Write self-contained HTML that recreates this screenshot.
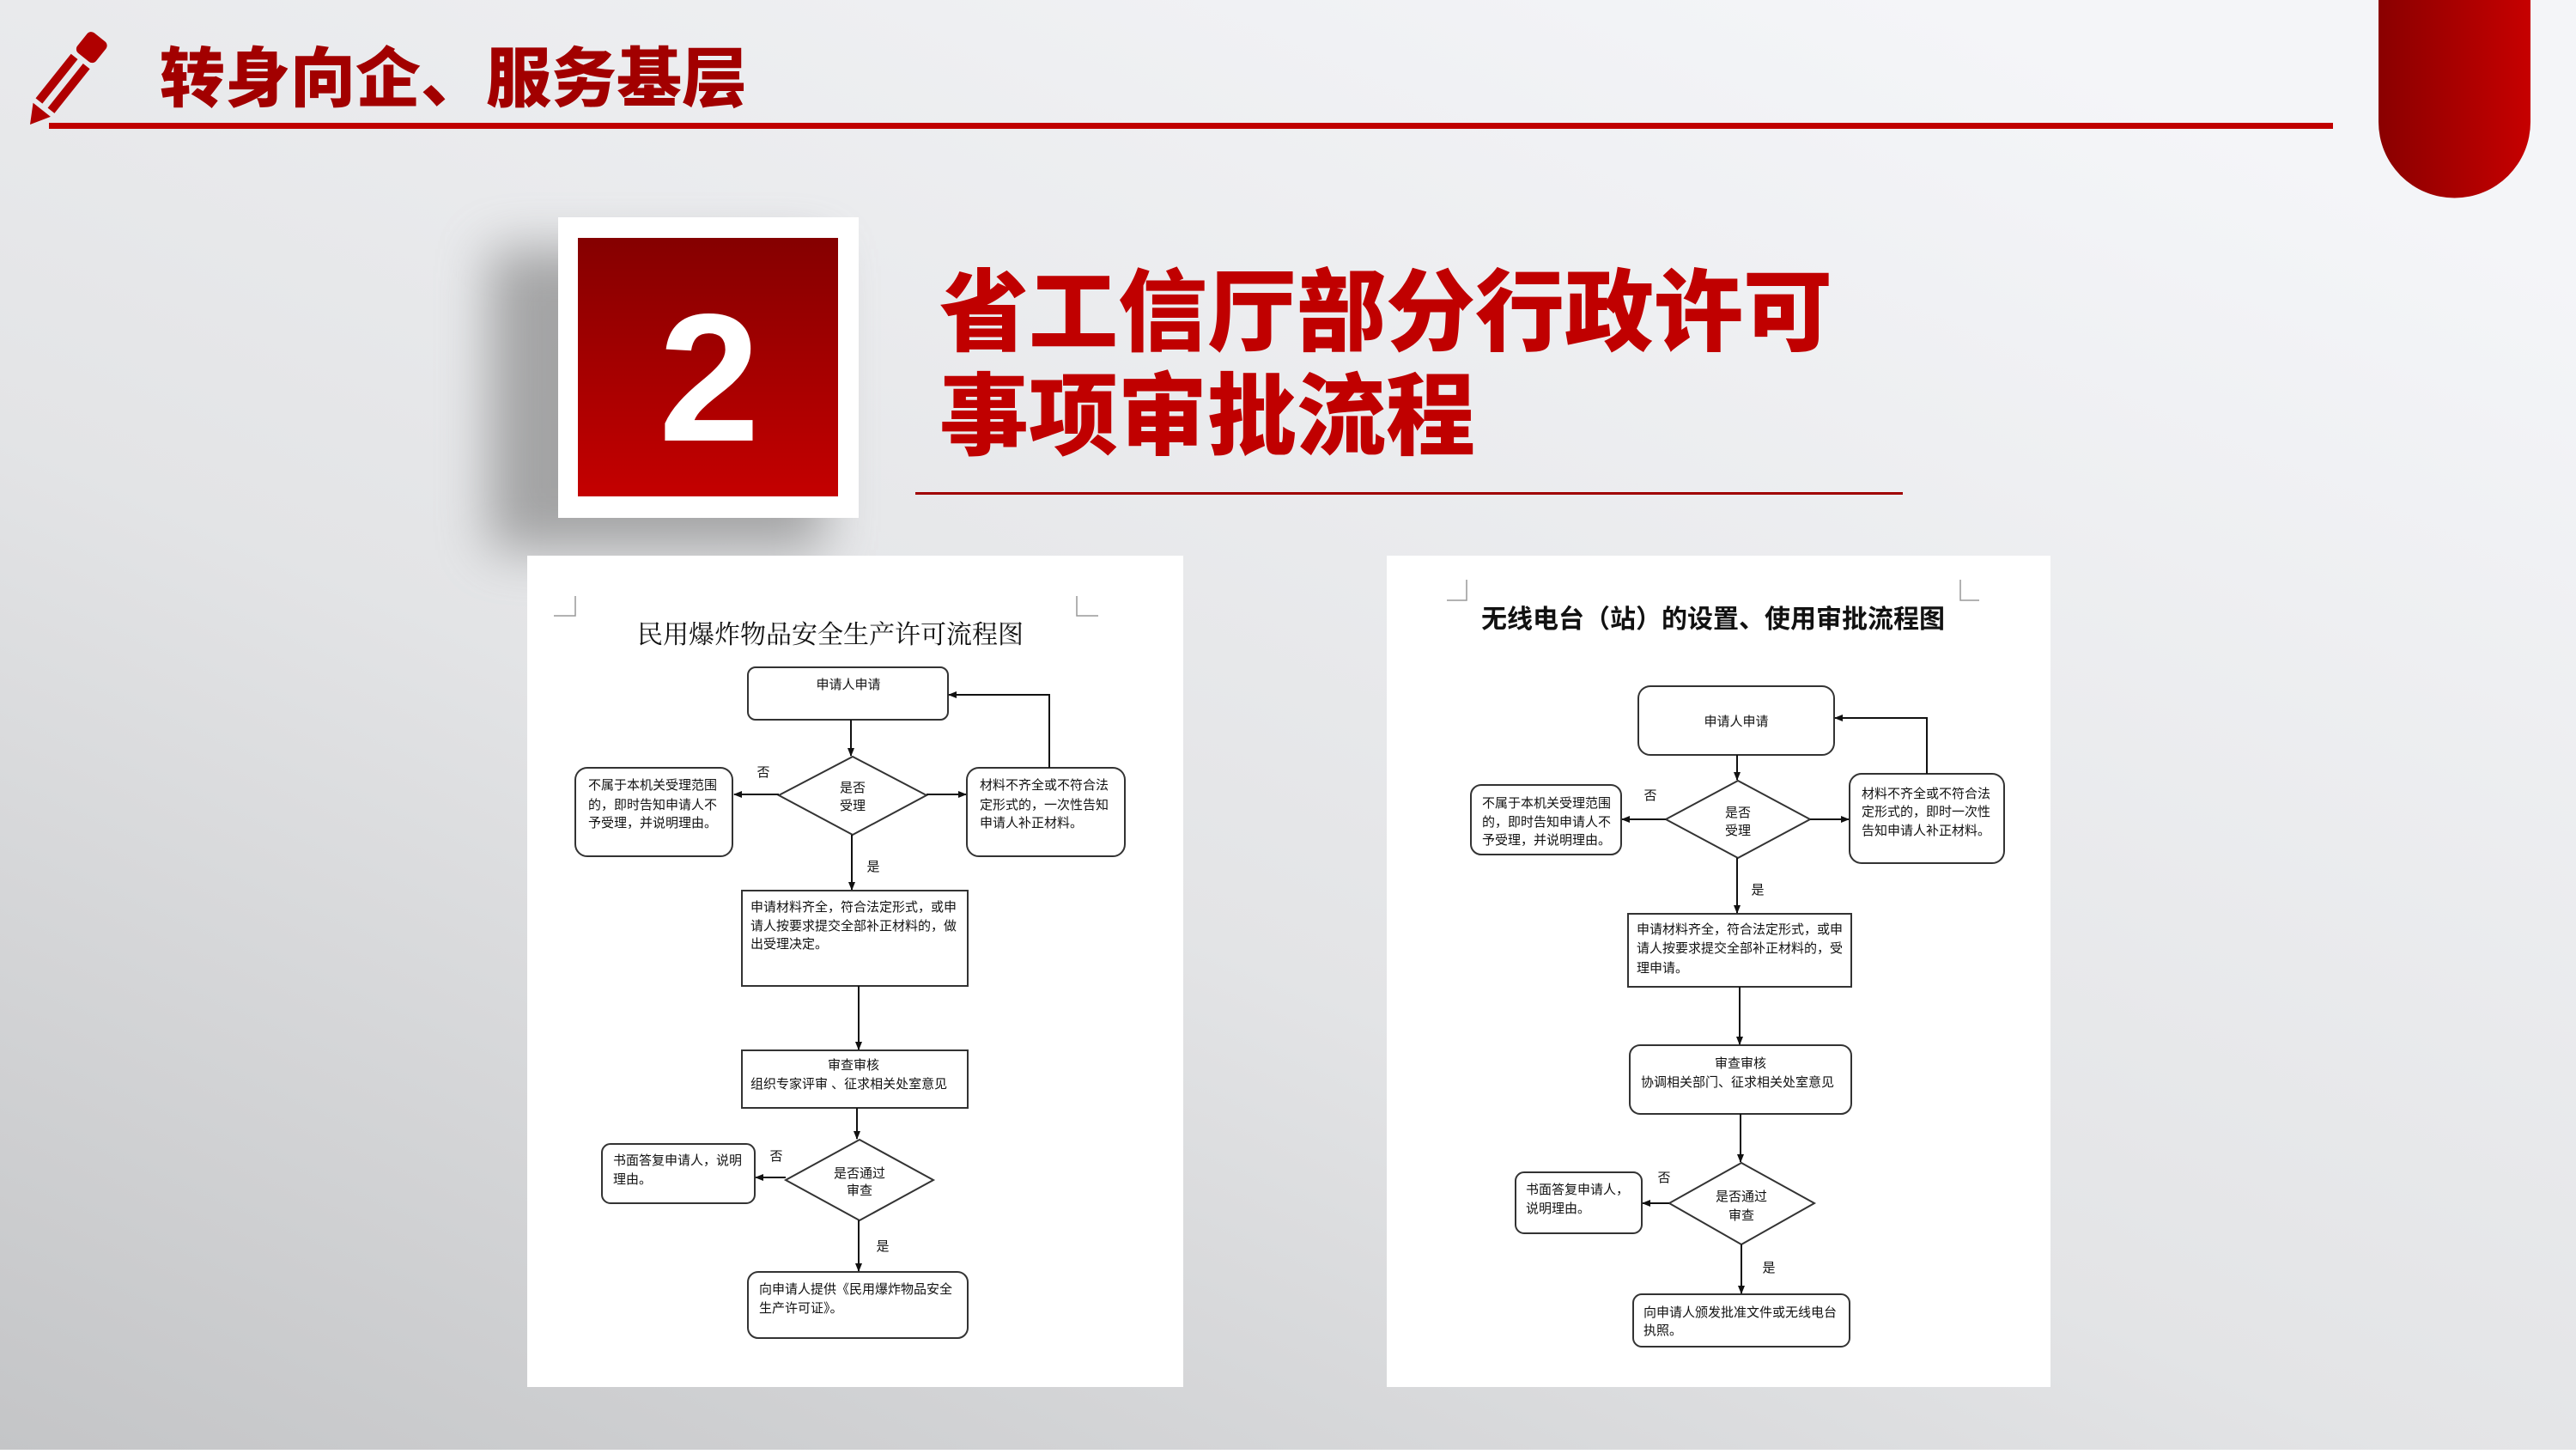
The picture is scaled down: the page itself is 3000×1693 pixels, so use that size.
<!DOCTYPE html>
<html><head><meta charset="utf-8"><style>
html,body{margin:0;padding:0;}
body{width:3000px;height:1688px;overflow:hidden;}
svg text{font-family:"Liberation Sans","Noto Sans CJK SC",sans-serif;}
.f{font-size:15px;fill:#111;}
.b{fill:#fff;stroke:#333;stroke-width:2;}
.l{stroke:#111;stroke-width:2;fill:none;}
</style></head><body>
<svg width="3000" height="1688" viewBox="0 0 3000 1688" xmlns="http://www.w3.org/2000/svg">
<defs>
<linearGradient id="bg" x1="0" y1="1" x2="0.75" y2="0">
<stop offset="0" stop-color="#c4c5c7"/><stop offset="0.45" stop-color="#e3e4e6"/><stop offset="1" stop-color="#f4f5f8"/>
</linearGradient>
<linearGradient id="red" x1="0" y1="0" x2="0" y2="1">
<stop offset="0" stop-color="#850000"/><stop offset="1" stop-color="#c40000"/>
</linearGradient>
<linearGradient id="redh" x1="0" y1="0" x2="1" y2="0">
<stop offset="0" stop-color="#8a0000"/><stop offset="1" stop-color="#c60000"/>
</linearGradient>
<filter id="sh" x="-50%" y="-50%" width="200%" height="200%"><feGaussianBlur stdDeviation="30"/></filter>
<marker id="a" markerWidth="10" markerHeight="10" refX="9" refY="5" orient="auto" markerUnits="userSpaceOnUse"><path d="M0,1 L10,5 L0,9 z" fill="#111"/></marker>
</defs>
<rect width="3000" height="1688" fill="url(#bg)"/>

<g transform="translate(35,145) rotate(-51.4)">
<polygon points="0,0 22,-13 22,13" fill="#b00000"/>
<rect x="28" y="-14" width="66" height="10" fill="#b00000"/>
<rect x="28" y="4" width="66" height="10" fill="#b00000"/>
<rect x="100" y="-14" width="30" height="28" rx="6" fill="#b00000"/>
</g>
<rect x="57" y="143" width="2660" height="7" fill="#c00000"/>
<text x="186" y="118" style="font-size:76px;font-weight:900;fill:#a20000;font-family:'Liberation Sans','Noto Sans CJK SC',sans-serif">转身向企、服务基层</text>
<path d="M2770,0 H2947 V142 A88.5,88.5 0 0 1 2770,142 Z" fill="url(#redh)"/>

<rect x="570" y="290" width="390" height="350" fill="#777" opacity="0.6" filter="url(#sh)"/>
<rect x="650" y="253" width="350" height="350" fill="#fff"/>
<rect x="673" y="277" width="303" height="301" fill="url(#red)"/>
<text x="826" y="513" text-anchor="middle" style="font-size:212px;font-weight:bold;fill:#fff;font-family:'Liberation Sans',sans-serif">2</text>

<text x="1094" y="400" style="font-size:104px;font-weight:900;fill:#c00000;font-family:'Liberation Sans','Noto Sans CJK SC',sans-serif">省工信厅部分行政许可</text>
<text x="1094" y="521" style="font-size:104px;font-weight:900;fill:#c00000;font-family:'Liberation Sans','Noto Sans CJK SC',sans-serif">事项审批流程</text>
<rect x="1066" y="573" width="1150" height="3" fill="#a00000"/>

<rect x="614" y="647" width="764" height="968" fill="#fff"/>
<path d="M645,717 H670 V694 M1254,694 V717 H1279" stroke="#999" stroke-width="1.5" fill="none"/>
<text x="967" y="749" text-anchor="middle" style="font-size:30px;fill:#111;font-family:'Liberation Serif','Noto Serif CJK SC',serif">民用爆炸物品安全生产许可流程图</text>
<rect class="b" x="871" y="777" width="233" height="61" rx="9"/>
<text class="f" x="988" y="802" text-anchor="middle">申请人申请</text>
<line class="l" x1="991" y1="838" x2="991" y2="880" marker-end="url(#a)"/>
<polygon class="b" points="993,881 1079,926 993,972 907,926"/>
<text class="f" x="993" y="922" text-anchor="middle">是否</text>
<text class="f" x="993" y="943" text-anchor="middle">受理</text>
<line class="l" x1="907" y1="925" x2="855" y2="925" marker-end="url(#a)"/>
<text class="f" x="889" y="904" text-anchor="middle">否</text>
<rect class="b" x="670" y="894" width="183" height="103" rx="14"/>
<text class="f" x="685" y="919">不属于本机关受理范围</text>
<text class="f" x="685" y="942">的，即时告知申请人不</text>
<text class="f" x="685" y="963">予受理，并说明理由。</text>
<line class="l" x1="1079" y1="925" x2="1125" y2="925" marker-end="url(#a)"/>
<rect class="b" x="1126" y="894" width="184" height="103" rx="14"/>
<text class="f" x="1141" y="919">材料不齐全或不符合法</text>
<text class="f" x="1141" y="942">定形式的，一次性告知</text>
<text class="f" x="1141" y="963">申请人补正材料。</text>
<polyline class="l" points="1222,894 1222,809 1105,809" marker-end="url(#a)"/>
<text class="f" x="1017" y="1014" text-anchor="middle">是</text>
<line class="l" x1="992" y1="972" x2="992" y2="1036" marker-end="url(#a)"/>
<rect class="b" x="864" y="1037" width="263" height="111"/>
<text class="f" x="874" y="1061">申请材料齐全，符合法定形式，或申</text>
<text class="f" x="874" y="1083">请人按要求提交全部补正材料的，做</text>
<text class="f" x="874" y="1104">出受理决定。</text>
<line class="l" x1="1000" y1="1148" x2="1000" y2="1222" marker-end="url(#a)"/>
<rect class="b" x="864" y="1223" width="263" height="67"/>
<text class="f" x="994" y="1245" text-anchor="middle">审查审核</text>
<text class="f" x="874" y="1267">组织专家评审 、征求相关处室意见</text>
<line class="l" x1="998" y1="1290" x2="998" y2="1326" marker-end="url(#a)"/>
<polygon class="b" points="1001,1327 1087,1374 1001,1421 915,1374"/>
<text class="f" x="1001" y="1371" text-anchor="middle">是否通过</text>
<text class="f" x="1001" y="1391" text-anchor="middle">审查</text>
<line class="l" x1="915" y1="1371" x2="880" y2="1371" marker-end="url(#a)"/>
<text class="f" x="904" y="1351" text-anchor="middle">否</text>
<rect class="b" x="701" y="1332" width="178" height="69" rx="10"/>
<text class="f" x="714" y="1356">书面答复申请人，说明</text>
<text class="f" x="714" y="1378">理由。</text>
<text class="f" x="1028" y="1456" text-anchor="middle">是</text>
<line class="l" x1="1000" y1="1421" x2="1000" y2="1480" marker-end="url(#a)"/>
<rect class="b" x="871" y="1481" width="256" height="77" rx="12"/>
<text class="f" x="884" y="1506">向申请人提供《民用爆炸物品安全</text>
<text class="f" x="884" y="1528">生产许可证》。</text>

<rect x="1615" y="647" width="773" height="968" fill="#fff"/>
<path d="M1685,699 H1708 V675 M2283,675 V699 H2305" stroke="#999" stroke-width="1.5" fill="none"/>
<text x="1995" y="731" text-anchor="middle" style="font-size:30px;font-weight:bold;fill:#111;font-family:'Liberation Sans','Noto Sans CJK SC',sans-serif">无线电台（站）的设置、使用审批流程图</text>
<rect class="b" x="1908" y="799" width="228" height="80" rx="14"/>
<text class="f" x="2022" y="845" text-anchor="middle">申请人申请</text>
<line class="l" x1="2023" y1="879" x2="2023" y2="908" marker-end="url(#a)"/>
<polygon class="b" points="2024,909 2108,954 2024,999 1940,954"/>
<text class="f" x="2024" y="951" text-anchor="middle">是否</text>
<text class="f" x="2024" y="972" text-anchor="middle">受理</text>
<line class="l" x1="1940" y1="954" x2="1889" y2="954" marker-end="url(#a)"/>
<text class="f" x="1922" y="931" text-anchor="middle">否</text>
<rect class="b" x="1713" y="914" width="175" height="81" rx="12"/>
<text class="f" x="1726" y="940">不属于本机关受理范围</text>
<text class="f" x="1726" y="962">的，即时告知申请人不</text>
<text class="f" x="1726" y="983">予受理，并说明理由。</text>
<line class="l" x1="2108" y1="954" x2="2153" y2="954" marker-end="url(#a)"/>
<rect class="b" x="2154" y="901" width="180" height="104" rx="14"/>
<text class="f" x="2168" y="929">材料不齐全或不符合法</text>
<text class="f" x="2168" y="950">定形式的，即时一次性</text>
<text class="f" x="2168" y="972">告知申请人补正材料。</text>
<polyline class="l" points="2244,901 2244,836 2137,836" marker-end="url(#a)"/>
<text class="f" x="2047" y="1041" text-anchor="middle">是</text>
<line class="l" x1="2023" y1="999" x2="2023" y2="1063" marker-end="url(#a)"/>
<rect class="b" x="1896" y="1064" width="260" height="85"/>
<text class="f" x="1906" y="1087">申请材料齐全，符合法定形式，或申</text>
<text class="f" x="1906" y="1109">请人按要求提交全部补正材料的，受</text>
<text class="f" x="1906" y="1132">理申请。</text>
<line class="l" x1="2026" y1="1149" x2="2026" y2="1216" marker-end="url(#a)"/>
<rect class="b" x="1898" y="1217" width="258" height="80" rx="12"/>
<text class="f" x="2027" y="1243" text-anchor="middle">审查审核</text>
<text class="f" x="1911" y="1265">协调相关部门、征求相关处室意见</text>
<line class="l" x1="2027" y1="1297" x2="2027" y2="1353" marker-end="url(#a)"/>
<polygon class="b" points="2028,1354 2113,1401 2028,1449 1944,1401"/>
<text class="f" x="2028" y="1398" text-anchor="middle">是否通过</text>
<text class="f" x="2028" y="1420" text-anchor="middle">审查</text>
<line class="l" x1="1944" y1="1401" x2="1913" y2="1401" marker-end="url(#a)"/>
<text class="f" x="1938" y="1376" text-anchor="middle">否</text>
<rect class="b" x="1765" y="1365" width="147" height="71" rx="10"/>
<text class="f" x="1777" y="1390">书面答复申请人，</text>
<text class="f" x="1777" y="1412">说明理由。</text>
<text class="f" x="2060" y="1481" text-anchor="middle">是</text>
<line class="l" x1="2028" y1="1449" x2="2028" y2="1506" marker-end="url(#a)"/>
<rect class="b" x="1902" y="1507" width="252" height="61" rx="10"/>
<text class="f" x="1914" y="1533">向申请人颁发批准文件或无线电台</text>
<text class="f" x="1914" y="1554">执照。</text>
</svg>
</body></html>
